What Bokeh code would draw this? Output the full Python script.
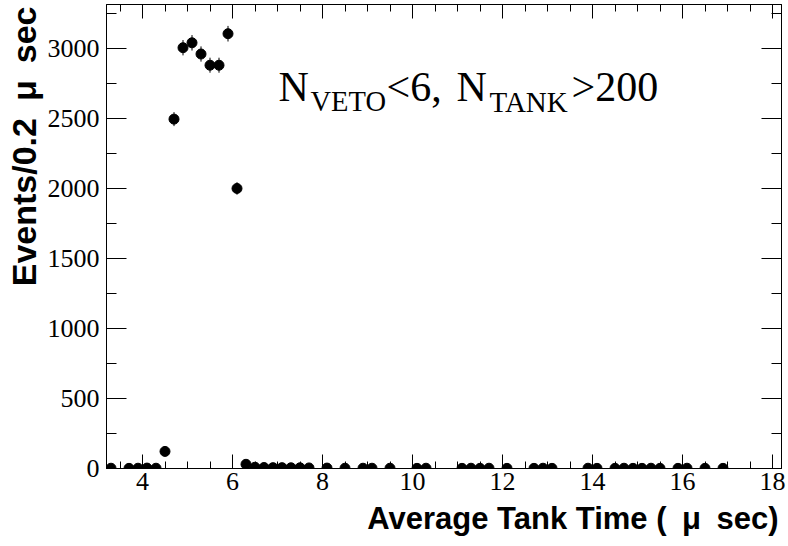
import numpy as np
from bokeh.plotting import figure
from bokeh.models import (Range1d, SingleIntervalTicker, LinearAxis, Label, Title,
                          ColumnDataSource, CustomJSTickFormatter)
from bokeh.embed import file_html
from bokeh.resources import INLINE

# ---- data (bin centres of 0.2 us bins, counts per bin) ----
bin_centers = [3.3, 3.7, 3.9, 4.1, 4.3, 4.5, 4.7, 4.9, 5.1, 5.3,
               5.5, 5.7, 5.9, 6.1, 6.3, 6.5, 6.7, 6.9, 7.1, 7.3,
               7.5, 7.7, 8.1, 8.5, 8.9, 9.1, 9.5, 10.1, 10.3, 11.1,
               11.3, 11.5, 11.7, 12.1, 12.7, 12.9, 13.1, 13.9, 14.1, 14.5,
               14.7, 14.9, 15.1, 15.3, 15.5, 15.9, 16.1, 16.5, 16.9]
counts = [2, 1, 2, 3, 2, 122, 2495, 3005, 3040, 2960,
          2880, 2880, 3105, 2000, 30, 9, 7, 6, 6, 5,
          5, 4, 3, 2, 2, 2, 2, 1, 2, 1,
          2, 1, 2, 1, 1, 2, 1, 2, 1, 1,
          2, 1, 1, 2, 1, 1, 2, 1, 1]

x_title = "Average Tank Time (\u2002\u03bc\u2002sec)"
y_title = "Events/0.2\u2002\u03bc\u2002sec"

X_MIN, X_MAX = 3.2, 18.2
Y_MIN, Y_MAX = 0, 3313.6

W, H = 788, 546
BL, BR, BT, BB = 106, 7, 4, 78
FW, FH = W - BL - BR, H - BT - BB


def px2x(px):
    return X_MIN + (px - BL) * (X_MAX - X_MIN) / FW


def px2y(py):
    return Y_MIN + (BT + FH - py) * (Y_MAX - Y_MIN) / FH


err = np.sqrt(np.array(counts, dtype=float))
src = ColumnDataSource(dict(x=bin_centers, y=counts,
                            lo=np.array(counts) - err, hi=np.array(counts) + err))

p = figure(width=W, height=H, output_backend="svg", toolbar_location=None,
           x_range=Range1d(X_MIN, X_MAX), y_range=Range1d(Y_MIN, Y_MAX),
           min_border_left=BL, min_border_right=BR, min_border_top=BT,
           min_border_bottom=BB)
p.styles = {"position": "absolute", "top": "0px", "left": "0px"}
p.grid.visible = False
p.outline_line_color = "black"
p.outline_line_width = 1
p.background_fill_color = "white"
p.border_fill_color = "white"

SERIF = "Liberation Serif"
SANS = "Liberation Sans"

xt = SingleIntervalTicker(interval=2, num_minor_ticks=4)
yt = SingleIntervalTicker(interval=500, num_minor_ticks=2)


def style_axis(ax, tin, tmin):
    ax.axis_line_color = "black"
    ax.major_tick_line_color = "black"
    ax.minor_tick_line_color = "black"
    ax.major_tick_in = tin
    ax.major_tick_out = 0
    ax.minor_tick_in = tmin
    ax.minor_tick_out = 0
    ax.major_label_text_font = SERIF
    ax.major_label_text_font_size = "26px"
    ax.major_label_text_color = "black"


xa = p.xaxis[0]
xa.ticker = xt
style_axis(xa, 14, 7)
xa.major_label_standoff = 4

ya = p.yaxis[0]
ya.ticker = yt
style_axis(ya, 20, 10)
ya.major_label_standoff = 7

blank = CustomJSTickFormatter(code="return ''")
top = LinearAxis(ticker=SingleIntervalTicker(interval=2, num_minor_ticks=4),
                 formatter=blank, major_label_standoff=0)
style_axis(top, 14, 7)
top.major_label_text_font_size = "0px"
p.add_layout(top, "above")

right = LinearAxis(ticker=SingleIntervalTicker(interval=500, num_minor_ticks=2),
                   formatter=blank, major_label_standoff=0)
style_axis(right, 20, 10)
right.major_label_text_font_size = "0px"
p.add_layout(right, "right")

# error bars and markers
p.segment(x0="x", y0="lo", x1="x", y1="hi", source=src, line_color="black", line_width=1)
p.scatter("x", "y", source=src, marker="circle", size=10,
          fill_color="black", line_color="black")

# axis titles (right / top aligned, as in the original)
p.add_layout(Title(text=x_title, align="right", offset=3, standoff=12,
                   text_font=SANS, text_font_style="bold",
                   text_font_size="31px", text_color="black"), "below")
p.add_layout(Title(text=y_title, align="right", offset=2, standoff=3,
                   text_font=SANS, text_font_style="bold",
                   text_font_size="34px", text_color="black"), "left")

# annotation N_VETO<6, N_TANK>200
main_base = px2y(86)
sub_base = px2y(101)
pieces = [("N", 278, main_base, "42px"),
          ("VETO", 310, sub_base, "28.5px"),
          ("<6,", 386, main_base, "42px"),
          ("N", 456, main_base, "42px"),
          ("TANK", 489, sub_base, "29px"),
          (">200", 571, main_base, "42px")]
for txt, px, yb, fs in pieces:
    p.add_layout(Label(x=px2x(px), y=yb, text=txt, text_align="left",
                       text_baseline="alphabetic", text_font=SERIF,
                       text_font_size=fs, text_color="black"))

open("out.html", "w").write(file_html(p, INLINE))
